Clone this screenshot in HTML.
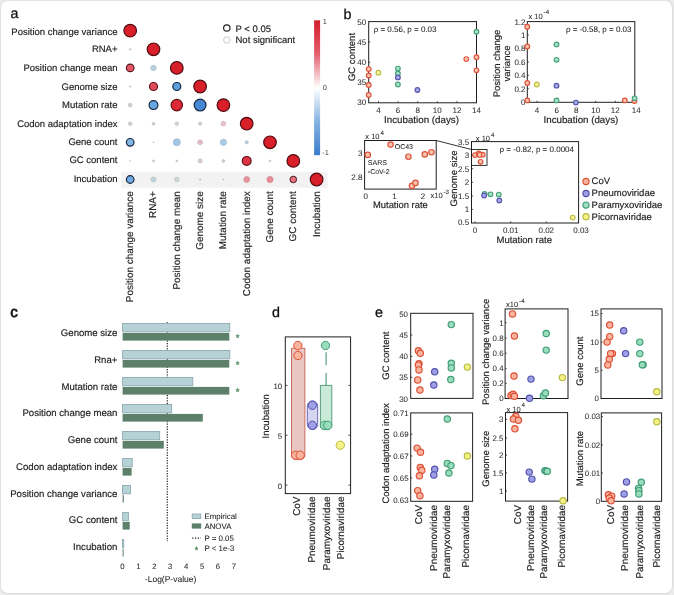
<!DOCTYPE html>
<html lang="en"><head><meta charset="utf-8"><title>Figure</title>
<style>
html,body{margin:0;padding:0;background:#ebebeb;}
body{width:674px;height:595px;overflow:hidden;position:relative;}
.card{position:absolute;left:0;top:0;width:671px;height:591.5px;background:#fff;border:1px solid #e3e3e3;border-right-color:#dcdcdc;border-bottom-color:#dcdcdc;border-radius:8px;box-sizing:content-box;}
svg{position:absolute;left:0;top:0;font-family:"Liberation Sans", sans-serif;text-rendering:geometricPrecision;will-change:transform;}
svg text{stroke:#1c1c1c;stroke-width:0.16px;paint-order:stroke fill;}
</style></head><body>
<div class="card"></div>
<svg width="674" height="595" viewBox="0 0 674 595">
<defs><linearGradient id="cb" x1="0" y1="0" x2="0" y2="1">
<stop offset="0" stop-color="#d31e2b"/><stop offset="0.25" stop-color="#e3606f"/><stop offset="0.5" stop-color="#ffffff"/><stop offset="0.75" stop-color="#86b4e2"/><stop offset="1" stop-color="#3a7ccd"/>
</linearGradient></defs>
<text x="10.5" y="17.8" font-size="14.3" fill="#111" style="stroke:#111;stroke-width:0.3px">a</text>
<text x="343.5" y="18.8" font-size="14.3" fill="#111" style="stroke:#111;stroke-width:0.3px">b</text>
<text x="10.3" y="317.2" font-size="15" fill="#111" style="stroke:#111;stroke-width:0.7px">c</text>
<text x="272" y="316.5" font-size="14.3" fill="#111" style="stroke:#111;stroke-width:0.3px">d</text>
<text x="375" y="316.5" font-size="14.3" fill="#111" style="stroke:#111;stroke-width:0.3px">e</text>
<rect x="121" y="171.8" width="206.6" height="15.9" fill="#f2f2f2"/>
<text x="117.50" y="35.00" font-size="9.5" text-anchor="end" fill="#1c1c1c" >Position change variance</text>
<text transform="translate(133.18,191.20) rotate(-90)" font-size="9.95" text-anchor="end" fill="#1c1c1c" >Position change variance</text>
<text x="117.50" y="52.00" font-size="9.5" text-anchor="end" fill="#1c1c1c" >RNA+</text>
<text transform="translate(156.48,191.20) rotate(-90)" font-size="9.95" text-anchor="end" fill="#1c1c1c" >RNA+</text>
<text x="117.50" y="71.00" font-size="9.5" text-anchor="end" fill="#1c1c1c" >Position change mean</text>
<text transform="translate(179.78,191.20) rotate(-90)" font-size="9.95" text-anchor="end" fill="#1c1c1c" >Position change mean</text>
<text x="117.50" y="90.00" font-size="9.5" text-anchor="end" fill="#1c1c1c" >Genome size</text>
<text transform="translate(203.08,191.20) rotate(-90)" font-size="9.95" text-anchor="end" fill="#1c1c1c" >Genome size</text>
<text x="117.50" y="108.00" font-size="9.5" text-anchor="end" fill="#1c1c1c" >Mutation rate</text>
<text transform="translate(226.38,191.20) rotate(-90)" font-size="9.95" text-anchor="end" fill="#1c1c1c" >Mutation rate</text>
<text x="117.50" y="127.00" font-size="9.5" text-anchor="end" fill="#1c1c1c" >Codon adaptation index</text>
<text transform="translate(249.68,191.20) rotate(-90)" font-size="9.95" text-anchor="end" fill="#1c1c1c" >Codon adaptation index</text>
<text x="117.50" y="145.00" font-size="9.5" text-anchor="end" fill="#1c1c1c" >Gene count</text>
<text transform="translate(272.98,191.20) rotate(-90)" font-size="9.95" text-anchor="end" fill="#1c1c1c" >Gene count</text>
<text x="117.50" y="163.00" font-size="9.5" text-anchor="end" fill="#1c1c1c" >GC content</text>
<text transform="translate(296.28,191.20) rotate(-90)" font-size="9.95" text-anchor="end" fill="#1c1c1c" >GC content</text>
<text x="117.50" y="182.00" font-size="9.5" text-anchor="end" fill="#1c1c1c" >Incubation</text>
<text transform="translate(319.58,191.20) rotate(-90)" font-size="9.95" text-anchor="end" fill="#1c1c1c" >Incubation</text>
<circle cx="130.2" cy="30.7" r="6.3" fill="#d81f2a" stroke="#520c11" stroke-width="1.2"/>
<circle cx="130.2" cy="49.3" r="0.9" fill="#cfcacd" stroke="#bab5b8" stroke-width="0.4"/>
<circle cx="153.5" cy="49.3" r="6.3" fill="#d81f2a" stroke="#520c11" stroke-width="1.2"/>
<circle cx="130.2" cy="67.9" r="3.8" fill="#e25565" stroke="#5e1820" stroke-width="1.2"/>
<circle cx="153.5" cy="67.9" r="2.7" fill="#b9cfdc" stroke="#a6bac6" stroke-width="0.7"/>
<circle cx="176.8" cy="67.9" r="6.3" fill="#d81f2a" stroke="#520c11" stroke-width="1.2"/>
<circle cx="130.2" cy="86.5" r="0.8" fill="#cfcacd" stroke="#bab5b8" stroke-width="0.4"/>
<circle cx="153.5" cy="86.5" r="4.0" fill="#e14a5a" stroke="#5e1820" stroke-width="1.2"/>
<circle cx="176.8" cy="86.5" r="4.0" fill="#5f9fdc" stroke="#16263e" stroke-width="1.2"/>
<circle cx="200.1" cy="86.5" r="6.3" fill="#d81f2a" stroke="#520c11" stroke-width="1.2"/>
<circle cx="130.2" cy="105.1" r="1.9" fill="#d6cdd1" stroke="#c0b8bc" stroke-width="0.7"/>
<circle cx="153.5" cy="105.1" r="4.4" fill="#69a7e1" stroke="#16263e" stroke-width="1.2"/>
<circle cx="176.8" cy="105.1" r="5.7" fill="#de2836" stroke="#5e0f14" stroke-width="1.2"/>
<circle cx="200.1" cy="105.1" r="5.9" fill="#4688d6" stroke="#16263e" stroke-width="1.2"/>
<circle cx="223.4" cy="105.1" r="6.3" fill="#d81f2a" stroke="#520c11" stroke-width="1.2"/>
<circle cx="130.2" cy="123.7" r="1.8" fill="#d4d0d3" stroke="#bebbbd" stroke-width="0.7"/>
<circle cx="153.5" cy="123.7" r="1.3" fill="#cfcacd" stroke="#bab5b8" stroke-width="0.7"/>
<circle cx="176.8" cy="123.7" r="1.8" fill="#d6d2d5" stroke="#c0bdbf" stroke-width="0.7"/>
<circle cx="200.1" cy="123.7" r="1.6" fill="#d6d2d5" stroke="#c0bdbf" stroke-width="0.7"/>
<circle cx="223.4" cy="123.7" r="2.4" fill="#e9c3ca" stroke="#d1afb5" stroke-width="0.7"/>
<circle cx="246.7" cy="123.7" r="6.3" fill="#d81f2a" stroke="#520c11" stroke-width="1.2"/>
<circle cx="130.2" cy="142.3" r="3.8" fill="#82b8e8" stroke="#16263e" stroke-width="1.2"/>
<circle cx="153.5" cy="142.3" r="0.6" fill="#cfcacd" stroke="#bab5b8" stroke-width="0.4"/>
<circle cx="176.8" cy="142.3" r="3.5" fill="#a3c6e4" stroke="#92b2cd" stroke-width="0.7"/>
<circle cx="200.1" cy="142.3" r="2.4" fill="#e2bcc6" stroke="#cba9b2" stroke-width="0.7"/>
<circle cx="223.4" cy="142.3" r="3.1" fill="#aacde5" stroke="#99b8ce" stroke-width="0.7"/>
<circle cx="246.7" cy="142.3" r="1.6" fill="#b5d3e4" stroke="#a2bdcd" stroke-width="0.7"/>
<circle cx="270.0" cy="142.3" r="6.3" fill="#d81f2a" stroke="#520c11" stroke-width="1.2"/>
<circle cx="130.2" cy="160.9" r="0.6" fill="#cfcacd" stroke="#bab5b8" stroke-width="0.4"/>
<circle cx="153.5" cy="160.9" r="1.1" fill="#cfcacd" stroke="#bab5b8" stroke-width="0.4"/>
<circle cx="176.8" cy="160.9" r="1.0" fill="#cfcacd" stroke="#bab5b8" stroke-width="0.4"/>
<circle cx="200.1" cy="160.9" r="2.1" fill="#dccdd3" stroke="#c6b8bd" stroke-width="0.7"/>
<circle cx="223.4" cy="160.9" r="1.3" fill="#cfcacd" stroke="#bab5b8" stroke-width="0.7"/>
<circle cx="246.7" cy="160.9" r="4.4" fill="#dd3344" stroke="#5e0f14" stroke-width="1.2"/>
<circle cx="270.0" cy="160.9" r="1.0" fill="#cfcacd" stroke="#bab5b8" stroke-width="0.4"/>
<circle cx="293.3" cy="160.9" r="6.3" fill="#d81f2a" stroke="#520c11" stroke-width="1.2"/>
<circle cx="130.2" cy="179.5" r="3.8" fill="#72aae1" stroke="#16263e" stroke-width="1.2"/>
<circle cx="153.5" cy="179.5" r="2.5" fill="#bdd2da" stroke="#aabdc4" stroke-width="0.7"/>
<circle cx="176.8" cy="179.5" r="2.3" fill="#cdd7da" stroke="#b8c1c4" stroke-width="0.7"/>
<circle cx="200.1" cy="179.5" r="0.7" fill="#bdbdbd" stroke="#aaaaaa" stroke-width="0.4"/>
<circle cx="223.4" cy="179.5" r="0.6" fill="#bdbdbd" stroke="#aaaaaa" stroke-width="0.4"/>
<circle cx="246.7" cy="179.5" r="2.9" fill="#e8949f" stroke="#d0858f" stroke-width="0.7"/>
<circle cx="270.0" cy="179.5" r="3.1" fill="#e88f9b" stroke="#d0808b" stroke-width="0.7"/>
<circle cx="293.3" cy="179.5" r="3.3" fill="#ea7080" stroke="#3c1018" stroke-width="0.95"/>
<circle cx="316.6" cy="179.5" r="6.3" fill="#d81f2a" stroke="#520c11" stroke-width="1.2"/>
<circle cx="226.8" cy="28.0" r="3.2" fill="#fff" stroke="#222" stroke-width="1.2"/>
<circle cx="226.8" cy="40.0" r="3.2" fill="#fff" stroke="#c2c2c2" stroke-width="0.9"/>
<text x="235.50" y="31.62" font-size="9.5" text-anchor="start" fill="#1c1c1c" >P &lt; 0.05</text>
<text x="235.50" y="43.42" font-size="9.5" text-anchor="start" fill="#1c1c1c" >Not significant</text>
<rect x="314.1" y="20.3" width="6" height="134.9" fill="url(#cb)"/>
<text x="322.80" y="24.46" font-size="7.4" text-anchor="start" fill="#444" style="stroke:none">1</text>
<text x="322.80" y="89.66" font-size="7.4" text-anchor="start" fill="#444" style="stroke:none">0</text>
<text x="322.20" y="155.06" font-size="7.4" text-anchor="start" fill="#444" style="stroke:none">-1</text>
<rect x="368.7" y="21.6" width="107.8" height="81.2" fill="none" stroke="#1e1e1e" stroke-width="1.0"/>
<text x="366.10" y="105.08" font-size="8.0" text-anchor="end" fill="#303030"  style="stroke-width:0.06px">30</text>
<text x="366.10" y="85.38" font-size="8.0" text-anchor="end" fill="#303030"  style="stroke-width:0.06px">35</text>
<line x1="368.7" y1="82.5" x2="370.3" y2="82.5" stroke="#1e1e1e" stroke-width="0.8"/>
<text x="366.10" y="65.08" font-size="8.0" text-anchor="end" fill="#303030"  style="stroke-width:0.06px">40</text>
<line x1="368.7" y1="62.2" x2="370.3" y2="62.2" stroke="#1e1e1e" stroke-width="0.8"/>
<text x="366.10" y="44.78" font-size="8.0" text-anchor="end" fill="#303030"  style="stroke-width:0.06px">45</text>
<line x1="368.7" y1="41.9" x2="370.3" y2="41.9" stroke="#1e1e1e" stroke-width="0.8"/>
<text x="366.10" y="25.28" font-size="8.0" text-anchor="end" fill="#303030"  style="stroke-width:0.06px">50</text>
<text x="378.50" y="113.08" font-size="8.0" text-anchor="middle" fill="#303030"  style="stroke-width:0.06px">4</text>
<line x1="378.5" y1="102.8" x2="378.5" y2="101.2" stroke="#1e1e1e" stroke-width="0.8"/>
<text x="398.10" y="113.08" font-size="8.0" text-anchor="middle" fill="#303030"  style="stroke-width:0.06px">6</text>
<line x1="398.1" y1="102.8" x2="398.1" y2="101.2" stroke="#1e1e1e" stroke-width="0.8"/>
<text x="417.70" y="113.08" font-size="8.0" text-anchor="middle" fill="#303030"  style="stroke-width:0.06px">8</text>
<line x1="417.7" y1="102.8" x2="417.7" y2="101.2" stroke="#1e1e1e" stroke-width="0.8"/>
<text x="437.30" y="113.08" font-size="8.0" text-anchor="middle" fill="#303030"  style="stroke-width:0.06px">10</text>
<line x1="437.3" y1="102.8" x2="437.3" y2="101.2" stroke="#1e1e1e" stroke-width="0.8"/>
<text x="456.90" y="113.08" font-size="8.0" text-anchor="middle" fill="#303030"  style="stroke-width:0.06px">12</text>
<line x1="456.9" y1="102.8" x2="456.9" y2="101.2" stroke="#1e1e1e" stroke-width="0.8"/>
<text x="476.50" y="113.08" font-size="8.0" text-anchor="middle" fill="#303030"  style="stroke-width:0.06px">14</text>
<text x="421.50" y="122.51" font-size="9.75" text-anchor="middle" fill="#1c1c1c" >Incubation (days)</text>
<text transform="translate(354.52,57.00) rotate(-90)" font-size="9.5" text-anchor="middle" fill="#1c1c1c" >GC content</text>
<text x="373.70" y="31.58" font-size="8.0" text-anchor="start" fill="#1c1c1c"  style="stroke-width:0.06px">ρ = 0.56, p = 0.03</text>
<circle cx="368.7" cy="69.1" r="2.35" fill="#fcc2b0" stroke="#de5338" stroke-width="1.15"/>
<circle cx="368.7" cy="75.5" r="2.35" fill="#fcc2b0" stroke="#de5338" stroke-width="1.15"/>
<circle cx="368.7" cy="85.0" r="2.35" fill="#fcc2b0" stroke="#de5338" stroke-width="1.15"/>
<circle cx="368.7" cy="95.0" r="2.35" fill="#fcc2b0" stroke="#de5338" stroke-width="1.15"/>
<circle cx="466.3" cy="59.1" r="2.35" fill="#fcc2b0" stroke="#de5338" stroke-width="1.15"/>
<circle cx="476.5" cy="57.2" r="2.35" fill="#fcc2b0" stroke="#de5338" stroke-width="1.15"/>
<circle cx="476.5" cy="70.3" r="2.35" fill="#fcc2b0" stroke="#de5338" stroke-width="1.15"/>
<circle cx="397.9" cy="68.6" r="2.35" fill="#a6e2c6" stroke="#46a07a" stroke-width="1.15"/>
<circle cx="397.9" cy="73.4" r="2.35" fill="#a6e2c6" stroke="#46a07a" stroke-width="1.15"/>
<circle cx="397.9" cy="84.5" r="2.35" fill="#a6e2c6" stroke="#46a07a" stroke-width="1.15"/>
<circle cx="476.5" cy="31.8" r="2.35" fill="#a6e2c6" stroke="#46a07a" stroke-width="1.15"/>
<circle cx="397.9" cy="77.4" r="2.35" fill="#a9a9ea" stroke="#5656ae" stroke-width="1.15"/>
<circle cx="417.4" cy="90.0" r="2.35" fill="#a9a9ea" stroke="#5656ae" stroke-width="1.15"/>
<circle cx="378.4" cy="72.7" r="2.35" fill="#f5f598" stroke="#bcbc44" stroke-width="1.15"/>
<rect x="527.3" y="21.6" width="107.5" height="80.7" fill="none" stroke="#1e1e1e" stroke-width="1.0"/>
<text x="525.50" y="104.58" font-size="8.0" text-anchor="end" fill="#303030"  style="stroke-width:0.06px">0</text>
<text x="525.50" y="91.73" font-size="8.0" text-anchor="end" fill="#303030"  style="stroke-width:0.06px">0.2</text>
<line x1="527.3" y1="88.8" x2="528.9" y2="88.8" stroke="#1e1e1e" stroke-width="0.8"/>
<text x="525.50" y="78.28" font-size="8.0" text-anchor="end" fill="#303030"  style="stroke-width:0.06px">0.4</text>
<line x1="527.3" y1="75.4" x2="528.9" y2="75.4" stroke="#1e1e1e" stroke-width="0.8"/>
<text x="525.50" y="64.83" font-size="8.0" text-anchor="end" fill="#303030"  style="stroke-width:0.06px">0.6</text>
<line x1="527.3" y1="62.0" x2="528.9" y2="62.0" stroke="#1e1e1e" stroke-width="0.8"/>
<text x="525.50" y="51.38" font-size="8.0" text-anchor="end" fill="#303030"  style="stroke-width:0.06px">0.8</text>
<line x1="527.3" y1="48.5" x2="528.9" y2="48.5" stroke="#1e1e1e" stroke-width="0.8"/>
<text x="525.50" y="37.93" font-size="8.0" text-anchor="end" fill="#303030"  style="stroke-width:0.06px">1</text>
<line x1="527.3" y1="35.0" x2="528.9" y2="35.0" stroke="#1e1e1e" stroke-width="0.8"/>
<text x="525.50" y="25.28" font-size="8.0" text-anchor="end" fill="#303030"  style="stroke-width:0.06px">1.2</text>
<text x="537.07" y="113.08" font-size="8.0" text-anchor="middle" fill="#303030"  style="stroke-width:0.06px">4</text>
<line x1="537.1" y1="102.3" x2="537.1" y2="100.7" stroke="#1e1e1e" stroke-width="0.8"/>
<text x="556.62" y="113.08" font-size="8.0" text-anchor="middle" fill="#303030"  style="stroke-width:0.06px">6</text>
<line x1="556.6" y1="102.3" x2="556.6" y2="100.7" stroke="#1e1e1e" stroke-width="0.8"/>
<text x="576.16" y="113.08" font-size="8.0" text-anchor="middle" fill="#303030"  style="stroke-width:0.06px">8</text>
<line x1="576.2" y1="102.3" x2="576.2" y2="100.7" stroke="#1e1e1e" stroke-width="0.8"/>
<text x="595.71" y="113.08" font-size="8.0" text-anchor="middle" fill="#303030"  style="stroke-width:0.06px">10</text>
<line x1="595.7" y1="102.3" x2="595.7" y2="100.7" stroke="#1e1e1e" stroke-width="0.8"/>
<text x="615.25" y="113.08" font-size="8.0" text-anchor="middle" fill="#303030"  style="stroke-width:0.06px">12</text>
<line x1="615.3" y1="102.3" x2="615.3" y2="100.7" stroke="#1e1e1e" stroke-width="0.8"/>
<text x="636.30" y="113.08" font-size="8.0" text-anchor="middle" fill="#303030"  style="stroke-width:0.06px">14</text>
<text x="580.90" y="122.51" font-size="9.75" text-anchor="middle" fill="#1c1c1c" >Incubation (days)</text>
<text transform="translate(499.62,63.50) rotate(-90)" font-size="9.5" text-anchor="middle" fill="#1c1c1c" >Position change</text>
<text transform="translate(510.42,63.50) rotate(-90)" font-size="9.5" text-anchor="middle" fill="#1c1c1c" >variance</text>
<text x="566.00" y="32.08" font-size="8.0" text-anchor="start" fill="#1c1c1c"  style="stroke-width:0.06px">ρ = -0.58, p = 0.03</text>
<text x="528.50" y="18.60" font-size="7.5" text-anchor="start" fill="#303030" style="stroke-width:0.06px">x 10<tspan dx="0.9" dy="-4.2" font-size="6.2">-4</tspan></text>
<circle cx="527.3" cy="26.8" r="2.35" fill="#fcc2b0" stroke="#de5338" stroke-width="1.15"/>
<circle cx="527.3" cy="46.5" r="2.35" fill="#fcc2b0" stroke="#de5338" stroke-width="1.15"/>
<circle cx="527.3" cy="82.9" r="2.35" fill="#fcc2b0" stroke="#de5338" stroke-width="1.15"/>
<circle cx="527.3" cy="100.4" r="2.35" fill="#fcc2b0" stroke="#de5338" stroke-width="1.15"/>
<circle cx="624.8" cy="100.4" r="2.35" fill="#fcc2b0" stroke="#de5338" stroke-width="1.15"/>
<circle cx="634.4" cy="101.0" r="2.35" fill="#fcc2b0" stroke="#de5338" stroke-width="1.15"/>
<circle cx="556.5" cy="44.4" r="2.35" fill="#a6e2c6" stroke="#46a07a" stroke-width="1.15"/>
<circle cx="556.5" cy="59.8" r="2.35" fill="#a6e2c6" stroke="#46a07a" stroke-width="1.15"/>
<circle cx="556.5" cy="100.4" r="2.35" fill="#a6e2c6" stroke="#46a07a" stroke-width="1.15"/>
<circle cx="634.6" cy="98.3" r="2.35" fill="#a6e2c6" stroke="#46a07a" stroke-width="1.15"/>
<circle cx="556.5" cy="85.7" r="2.35" fill="#a9a9ea" stroke="#5656ae" stroke-width="1.15"/>
<circle cx="575.9" cy="102.6" r="2.35" fill="#a9a9ea" stroke="#5656ae" stroke-width="1.15"/>
<circle cx="536.8" cy="84.5" r="2.35" fill="#f5f598" stroke="#bcbc44" stroke-width="1.15"/>
<rect x="364.6" y="140.5" width="71.6" height="48.6" fill="none" stroke="#1e1e1e" stroke-width="1.0"/>
<line x1="436.2" y1="140.5" x2="471.5" y2="149.5" stroke="#1e1e1e" stroke-width="0.9"/>
<text x="365.30" y="139.30" font-size="7.5" text-anchor="start" fill="#303030" style="stroke-width:0.06px">x 10<tspan dx="0.9" dy="-4.2" font-size="6.2">4</tspan></text>
<text x="362.40" y="156.48" font-size="8.0" text-anchor="end" fill="#303030"  style="stroke-width:0.06px">3</text>
<text x="362.40" y="180.38" font-size="8.0" text-anchor="end" fill="#303030"  style="stroke-width:0.06px">2.8</text>
<text x="365.70" y="199.18" font-size="8.0" text-anchor="middle" fill="#303030"  style="stroke-width:0.06px">0</text>
<text x="394.50" y="199.18" font-size="8.0" text-anchor="middle" fill="#303030"  style="stroke-width:0.06px">1</text>
<text x="423.00" y="199.18" font-size="8.0" text-anchor="middle" fill="#303030"  style="stroke-width:0.06px">2</text>
<text x="430.50" y="197.70" font-size="7.5" text-anchor="start" fill="#303030" style="stroke-width:0.06px">x10<tspan dx="0.9" dy="-4.2" font-size="6.2">-3</tspan></text>
<text x="400.40" y="207.58" font-size="9.4" text-anchor="middle" fill="#1c1c1c" >Mutation rate</text>
<text x="394.70" y="148.92" font-size="7.0" text-anchor="start" fill="#1c1c1c"  style="stroke-width:0.06px">OC43</text>
<text x="367.80" y="164.92" font-size="7.0" text-anchor="start" fill="#1c1c1c"  style="stroke-width:0.06px">SARS</text>
<text x="367.80" y="174.32" font-size="7.0" text-anchor="start" fill="#1c1c1c"  style="stroke-width:0.06px">-CoV-2</text>
<circle cx="390.6" cy="144.6" r="2.7" fill="#fcc2b0" stroke="#de5338" stroke-width="1.2"/>
<circle cx="367.8" cy="154.9" r="2.7" fill="#fcc2b0" stroke="#de5338" stroke-width="1.2"/>
<circle cx="408.4" cy="156.7" r="2.7" fill="#fcc2b0" stroke="#de5338" stroke-width="1.2"/>
<circle cx="424.8" cy="154.4" r="2.7" fill="#fcc2b0" stroke="#de5338" stroke-width="1.2"/>
<circle cx="431.5" cy="152.2" r="2.7" fill="#fcc2b0" stroke="#de5338" stroke-width="1.2"/>
<circle cx="412.0" cy="185.9" r="2.7" fill="#fcc2b0" stroke="#de5338" stroke-width="1.2"/>
<circle cx="415.5" cy="182.9" r="2.7" fill="#fcc2b0" stroke="#de5338" stroke-width="1.2"/>
<rect x="471.5" y="141.6" width="107.1" height="81.4" fill="none" stroke="#1e1e1e" stroke-width="1.0"/>
<rect x="471.5" y="149.5" width="15.5" height="15.9" fill="none" stroke="#1e1e1e" stroke-width="0.9"/>
<text x="469.20" y="225.28" font-size="8.0" text-anchor="end" fill="#303030"  style="stroke-width:0.06px">0.5</text>
<text x="469.20" y="212.31" font-size="8.0" text-anchor="end" fill="#303030"  style="stroke-width:0.06px">1</text>
<line x1="471.5" y1="209.4" x2="473.1" y2="209.4" stroke="#1e1e1e" stroke-width="0.8"/>
<text x="469.20" y="198.75" font-size="8.0" text-anchor="end" fill="#303030"  style="stroke-width:0.06px">1.5</text>
<line x1="471.5" y1="195.9" x2="473.1" y2="195.9" stroke="#1e1e1e" stroke-width="0.8"/>
<text x="469.20" y="185.18" font-size="8.0" text-anchor="end" fill="#303030"  style="stroke-width:0.06px">2</text>
<line x1="471.5" y1="182.3" x2="473.1" y2="182.3" stroke="#1e1e1e" stroke-width="0.8"/>
<text x="469.20" y="171.61" font-size="8.0" text-anchor="end" fill="#303030"  style="stroke-width:0.06px">2.5</text>
<line x1="471.5" y1="168.7" x2="473.1" y2="168.7" stroke="#1e1e1e" stroke-width="0.8"/>
<text x="469.20" y="158.05" font-size="8.0" text-anchor="end" fill="#303030"  style="stroke-width:0.06px">3</text>
<line x1="471.5" y1="155.2" x2="473.1" y2="155.2" stroke="#1e1e1e" stroke-width="0.8"/>
<text x="469.20" y="145.08" font-size="8.0" text-anchor="end" fill="#303030"  style="stroke-width:0.06px">3.5</text>
<text x="475.10" y="233.08" font-size="8.0" text-anchor="middle" fill="#303030"  style="stroke-width:0.06px">0</text>
<line x1="475.1" y1="223.0" x2="475.1" y2="221.4" stroke="#1e1e1e" stroke-width="0.8"/>
<text x="510.70" y="233.08" font-size="8.0" text-anchor="middle" fill="#303030"  style="stroke-width:0.06px">0.01</text>
<line x1="510.7" y1="223.0" x2="510.7" y2="221.4" stroke="#1e1e1e" stroke-width="0.8"/>
<text x="546.30" y="233.08" font-size="8.0" text-anchor="middle" fill="#303030"  style="stroke-width:0.06px">0.02</text>
<line x1="546.3" y1="223.0" x2="546.3" y2="221.4" stroke="#1e1e1e" stroke-width="0.8"/>
<text x="581.00" y="233.08" font-size="8.0" text-anchor="middle" fill="#303030"  style="stroke-width:0.06px">0.03</text>
<text x="524.20" y="242.82" font-size="9.5" text-anchor="middle" fill="#1c1c1c" >Mutation rate</text>
<text transform="translate(457.12,178.40) rotate(-90)" font-size="9.5" text-anchor="middle" fill="#1c1c1c" >Genome size</text>
<text x="499.60" y="151.58" font-size="8.0" text-anchor="start" fill="#1c1c1c"  style="stroke-width:0.06px">ρ = -0.82, p = 0.0004</text>
<text x="475.80" y="140.70" font-size="7.5" text-anchor="start" fill="#303030" style="stroke-width:0.06px">x 10<tspan dx="0.9" dy="-4.2" font-size="6.2">4</tspan></text>
<circle cx="475.1" cy="155.1" r="2.35" fill="#fcc2b0" stroke="#de5338" stroke-width="1.15"/>
<circle cx="478.7" cy="153.5" r="2.35" fill="#fcc2b0" stroke="#de5338" stroke-width="1.15"/>
<circle cx="482.7" cy="154.7" r="2.35" fill="#fcc2b0" stroke="#de5338" stroke-width="1.15"/>
<circle cx="480.6" cy="161.8" r="2.35" fill="#fcc2b0" stroke="#de5338" stroke-width="1.15"/>
<circle cx="479.6" cy="154.9" r="2.35" fill="#fcc2b0" stroke="#de5338" stroke-width="1.15"/>
<circle cx="484.6" cy="193.8" r="2.35" fill="#a6e2c6" stroke="#46a07a" stroke-width="1.15"/>
<circle cx="490.5" cy="194.3" r="2.35" fill="#a6e2c6" stroke="#46a07a" stroke-width="1.15"/>
<circle cx="498.8" cy="194.6" r="2.35" fill="#a6e2c6" stroke="#46a07a" stroke-width="1.15"/>
<circle cx="484.1" cy="195.5" r="2.35" fill="#a9a9ea" stroke="#5656ae" stroke-width="1.15"/>
<circle cx="499.3" cy="200.5" r="2.35" fill="#a9a9ea" stroke="#5656ae" stroke-width="1.15"/>
<circle cx="572.7" cy="217.6" r="2.35" fill="#f5f598" stroke="#bcbc44" stroke-width="1.15"/>
<circle cx="586.0" cy="181.5" r="3.1" fill="#fab49e" stroke="#dc4f34" stroke-width="1.15"/>
<text x="591.60" y="184.47" font-size="9.5" text-anchor="start" fill="#1c1c1c" >CoV</text>
<circle cx="586.0" cy="193.5" r="3.1" fill="#9f9fe7" stroke="#5252aa" stroke-width="1.15"/>
<text x="591.60" y="196.47" font-size="9.5" text-anchor="start" fill="#1c1c1c" >Pneumoviridae</text>
<circle cx="586.0" cy="205.1" r="3.1" fill="#98ddbc" stroke="#429c76" stroke-width="1.15"/>
<text x="591.60" y="208.07" font-size="9.5" text-anchor="start" fill="#1c1c1c" >Paramyxoviridae</text>
<circle cx="586.0" cy="216.7" r="3.1" fill="#f3f386" stroke="#b8b840" stroke-width="1.15"/>
<text x="591.60" y="219.67" font-size="9.5" text-anchor="start" fill="#1c1c1c" >Picornaviridae</text>
<line x1="167.3" y1="322.2" x2="167.3" y2="541.2" stroke="#222" stroke-width="1.2" stroke-dasharray="1.25,1.35"/>
<text x="117.40" y="336.00" font-size="9.6" text-anchor="end" fill="#1c1c1c" >Genome size</text>
<rect x="122.6" y="323.4" width="107.2" height="8.4" fill="#b7d2d7" stroke="#86a6ad" stroke-width="0.8"/>
<rect x="122.6" y="332.9" width="106.7" height="7.7" fill="#5c8069"/>
<text x="237.50" y="341.32" font-size="9.5" text-anchor="middle" fill="#4a8a5c" style="stroke:#4a8a5c;stroke-width:0.3px">*</text>
<text x="117.40" y="363.00" font-size="9.6" text-anchor="end" fill="#1c1c1c" >Rna+</text>
<rect x="122.6" y="350.4" width="107.2" height="8.4" fill="#b7d2d7" stroke="#86a6ad" stroke-width="0.8"/>
<rect x="122.6" y="359.9" width="106.7" height="7.7" fill="#5c8069"/>
<text x="237.50" y="368.32" font-size="9.5" text-anchor="middle" fill="#4a8a5c" style="stroke:#4a8a5c;stroke-width:0.3px">*</text>
<text x="117.40" y="390.00" font-size="9.6" text-anchor="end" fill="#1c1c1c" >Mutation rate</text>
<rect x="122.6" y="377.4" width="70.2" height="8.4" fill="#b7d2d7" stroke="#86a6ad" stroke-width="0.8"/>
<rect x="122.6" y="386.9" width="106.7" height="7.7" fill="#5c8069"/>
<text x="237.50" y="395.32" font-size="9.5" text-anchor="middle" fill="#4a8a5c" style="stroke:#4a8a5c;stroke-width:0.3px">*</text>
<text x="117.40" y="416.00" font-size="9.6" text-anchor="end" fill="#1c1c1c" >Position change mean</text>
<rect x="122.6" y="404.4" width="49.1" height="8.4" fill="#b7d2d7" stroke="#86a6ad" stroke-width="0.8"/>
<rect x="122.6" y="413.9" width="80.2" height="7.7" fill="#5c8069"/>
<text x="117.40" y="443.00" font-size="9.6" text-anchor="end" fill="#1c1c1c" >Gene count</text>
<rect x="122.6" y="431.4" width="37.1" height="8.4" fill="#b7d2d7" stroke="#86a6ad" stroke-width="0.8"/>
<rect x="122.6" y="440.9" width="41.2" height="7.7" fill="#5c8069"/>
<text x="117.40" y="470.00" font-size="9.6" text-anchor="end" fill="#1c1c1c" >Codon adaptation index</text>
<rect x="122.6" y="458.4" width="9.6" height="8.4" fill="#b7d2d7" stroke="#86a6ad" stroke-width="0.8"/>
<rect x="122.6" y="467.9" width="9.0" height="7.7" fill="#5c8069"/>
<text x="117.40" y="497.00" font-size="9.6" text-anchor="end" fill="#1c1c1c" >Position change variance</text>
<rect x="122.6" y="485.4" width="7.8" height="8.4" fill="#b7d2d7" stroke="#86a6ad" stroke-width="0.8"/>
<rect x="122.6" y="494.9" width="1.2" height="7.7" fill="#5c8069"/>
<text x="117.40" y="523.00" font-size="9.6" text-anchor="end" fill="#1c1c1c" >GC content</text>
<rect x="122.6" y="512.4" width="5.8" height="8.4" fill="#b7d2d7" stroke="#86a6ad" stroke-width="0.8"/>
<rect x="122.6" y="521.9" width="7.1" height="7.7" fill="#5c8069"/>
<text x="117.40" y="550.00" font-size="9.6" text-anchor="end" fill="#1c1c1c" >Incubation</text>
<rect x="122.6" y="539.4" width="1.1" height="8.4" fill="#b7d2d7" stroke="#86a6ad" stroke-width="0.8"/>
<rect x="122.6" y="548.9" width="1.0" height="7.7" fill="#5c8069"/>
<text x="122.50" y="569.01" font-size="7.8" text-anchor="middle" fill="#303030"  style="stroke-width:0.06px">0</text>
<text x="138.42" y="569.01" font-size="7.8" text-anchor="middle" fill="#303030"  style="stroke-width:0.06px">1</text>
<text x="154.34" y="569.01" font-size="7.8" text-anchor="middle" fill="#303030"  style="stroke-width:0.06px">2</text>
<text x="170.26" y="569.01" font-size="7.8" text-anchor="middle" fill="#303030"  style="stroke-width:0.06px">3</text>
<text x="186.18" y="569.01" font-size="7.8" text-anchor="middle" fill="#303030"  style="stroke-width:0.06px">4</text>
<text x="202.10" y="569.01" font-size="7.8" text-anchor="middle" fill="#303030"  style="stroke-width:0.06px">5</text>
<text x="218.02" y="569.01" font-size="7.8" text-anchor="middle" fill="#303030"  style="stroke-width:0.06px">6</text>
<text x="233.94" y="569.01" font-size="7.8" text-anchor="middle" fill="#303030"  style="stroke-width:0.06px">7</text>
<text x="170.60" y="582.16" font-size="8.5" text-anchor="middle" fill="#1c1c1c"  style="stroke-width:0.06px">-Log(P-value)</text>
<rect x="192.2" y="514.0" width="8.6" height="4.6" fill="#b7d2d7" stroke="#86a6ad" stroke-width="0.8"/>
<rect x="191.8" y="523.4" width="9.4" height="5.2" fill="#5c8069"/>
<line x1="192.2" y1="538.2" x2="201" y2="538.2" stroke="#222" stroke-width="1.2" stroke-dasharray="1.2,1.6"/>
<text x="196.50" y="553.04" font-size="9" text-anchor="middle" fill="#4a8a5c" style="stroke:#4a8a5c;stroke-width:0.3px">*</text>
<text x="204.40" y="519.04" font-size="7.9" text-anchor="start" fill="#1c1c1c"  style="stroke-width:0.06px">Empirical</text>
<text x="204.40" y="528.74" font-size="7.9" text-anchor="start" fill="#1c1c1c"  style="stroke-width:0.06px">ANOVA</text>
<text x="204.40" y="541.04" font-size="7.9" text-anchor="start" fill="#1c1c1c"  style="stroke-width:0.06px">P = 0.05</text>
<text x="204.40" y="550.84" font-size="7.9" text-anchor="start" fill="#1c1c1c"  style="stroke-width:0.06px">P &lt; 1e-3</text>
<path d="M291.5,348.2 L304.9,348.2 L304.9,455.2 A4.4,4.4 0 0 1 300.5,459.6 L295.9,459.6 A4.4,4.4 0 0 1 291.5,455.2 Z" fill="#eac6c2" stroke="#c4614f" stroke-width="0.9"/>
<rect x="307.3" y="400.9" width="10.4" height="28.7" rx="5.2" fill="#d5d5f2" stroke="#5a5ab0" stroke-width="0.9"/>
<line x1="326.1" y1="352.2" x2="326.1" y2="385.4" stroke="#4a9472" stroke-width="1.1" stroke-dasharray="13,7.8"/>
<path d="M320.4,385.4 L331.8,385.4 L331.8,425.3 A4.4,4.4 0 0 1 327.4,429.7 L324.8,429.7 A4.4,4.4 0 0 1 320.4,425.3 Z" fill="#c9ead6" stroke="#4a9472" stroke-width="0.9"/>
<circle cx="297.9" cy="345.5" r="4.15" fill="#fab49e" stroke="#dc4f34" stroke-width="1.0"/>
<circle cx="297.9" cy="355.5" r="4.15" fill="#fab49e" stroke="#dc4f34" stroke-width="1.0"/>
<circle cx="295.6" cy="455.2" r="4.15" fill="#fab49e" stroke="#dc4f34" stroke-width="1.0"/>
<circle cx="300.2" cy="455.2" r="4.15" fill="#fab49e" stroke="#dc4f34" stroke-width="1.0"/>
<circle cx="312.4" cy="405.3" r="4.15" fill="#9f9fe7" stroke="#5252aa" stroke-width="1.0"/>
<circle cx="312.4" cy="425.3" r="4.15" fill="#9f9fe7" stroke="#5252aa" stroke-width="1.0"/>
<circle cx="325.5" cy="345.5" r="4.15" fill="#98ddbc" stroke="#429c76" stroke-width="1.0"/>
<circle cx="324.4" cy="425.3" r="4.15" fill="#98ddbc" stroke="#429c76" stroke-width="1.0"/>
<circle cx="327.8" cy="425.3" r="4.15" fill="#98ddbc" stroke="#429c76" stroke-width="1.0"/>
<circle cx="340.3" cy="445.2" r="4.15" fill="#f3f386" stroke="#b8b840" stroke-width="1.0"/>
<rect x="285.3" y="336.9" width="65.3" height="156.7" fill="none" stroke="#1e1e1e" stroke-width="1.0"/>
<text x="282.20" y="488.81" font-size="7.8" text-anchor="end" fill="#303030"  style="stroke-width:0.06px">0</text>
<line x1="285.3" y1="485.1" x2="287.5" y2="485.1" stroke="#1e1e1e" stroke-width="0.8"/>
<line x1="350.6" y1="485.1" x2="348.4" y2="485.1" stroke="#1e1e1e" stroke-width="0.8"/>
<text x="282.20" y="438.96" font-size="7.8" text-anchor="end" fill="#303030"  style="stroke-width:0.06px">5</text>
<line x1="285.3" y1="435.2" x2="287.5" y2="435.2" stroke="#1e1e1e" stroke-width="0.8"/>
<line x1="350.6" y1="435.2" x2="348.4" y2="435.2" stroke="#1e1e1e" stroke-width="0.8"/>
<text x="282.20" y="389.11" font-size="7.8" text-anchor="end" fill="#303030"  style="stroke-width:0.06px">10</text>
<line x1="285.3" y1="385.4" x2="287.5" y2="385.4" stroke="#1e1e1e" stroke-width="0.8"/>
<line x1="350.6" y1="385.4" x2="348.4" y2="385.4" stroke="#1e1e1e" stroke-width="0.8"/>
<text transform="translate(268.77,416.30) rotate(-90)" font-size="9.65" text-anchor="middle" fill="#1c1c1c" >Incubation</text>
<text transform="translate(300.46,496.60) rotate(-90)" font-size="9.9" text-anchor="end" fill="#1c1c1c" >CoV</text>
<text transform="translate(315.06,496.60) rotate(-90)" font-size="9.9" text-anchor="end" fill="#1c1c1c" >Pneumoviridae</text>
<text transform="translate(329.66,496.60) rotate(-90)" font-size="9.9" text-anchor="end" fill="#1c1c1c" >Paramyxoviridae</text>
<text transform="translate(344.26,496.60) rotate(-90)" font-size="9.9" text-anchor="end" fill="#1c1c1c" >Picornaviridae</text>
<rect x="410.7" y="313.3" width="62.3" height="85.1" fill="none" stroke="#1e1e1e" stroke-width="1.0"/>
<text x="408.00" y="316.84" font-size="7.9" text-anchor="end" fill="#303030"  style="stroke-width:0.06px">50</text>
<text x="408.00" y="337.94" font-size="7.9" text-anchor="end" fill="#303030"  style="stroke-width:0.06px">45</text>
<line x1="410.7" y1="335.1" x2="412.3" y2="335.1" stroke="#1e1e1e" stroke-width="0.8"/>
<text x="408.00" y="359.24" font-size="7.9" text-anchor="end" fill="#303030"  style="stroke-width:0.06px">40</text>
<line x1="410.7" y1="356.4" x2="412.3" y2="356.4" stroke="#1e1e1e" stroke-width="0.8"/>
<text x="408.00" y="380.14" font-size="7.9" text-anchor="end" fill="#303030"  style="stroke-width:0.06px">35</text>
<line x1="410.7" y1="377.3" x2="412.3" y2="377.3" stroke="#1e1e1e" stroke-width="0.8"/>
<text x="408.00" y="401.54" font-size="7.9" text-anchor="end" fill="#303030"  style="stroke-width:0.06px">30</text>
<text transform="translate(389.12,355.60) rotate(-90)" font-size="9.5" text-anchor="middle" fill="#1c1c1c" >GC content</text>
<circle cx="418.4" cy="350.8" r="3.15" fill="#fab49e" stroke="#dc4f34" stroke-width="1.15"/>
<circle cx="420.3" cy="353.2" r="3.15" fill="#fab49e" stroke="#dc4f34" stroke-width="1.15"/>
<circle cx="419.0" cy="363.8" r="3.15" fill="#fab49e" stroke="#dc4f34" stroke-width="1.15"/>
<circle cx="418.4" cy="365.1" r="3.15" fill="#fab49e" stroke="#dc4f34" stroke-width="1.15"/>
<circle cx="419.0" cy="369.9" r="3.15" fill="#fab49e" stroke="#dc4f34" stroke-width="1.15"/>
<circle cx="417.7" cy="379.9" r="3.15" fill="#fab49e" stroke="#dc4f34" stroke-width="1.15"/>
<circle cx="419.9" cy="390.0" r="3.15" fill="#fab49e" stroke="#dc4f34" stroke-width="1.15"/>
<circle cx="434.7" cy="371.7" r="3.15" fill="#9f9fe7" stroke="#5252aa" stroke-width="1.15"/>
<circle cx="433.8" cy="385.0" r="3.15" fill="#9f9fe7" stroke="#5252aa" stroke-width="1.15"/>
<circle cx="451.3" cy="324.6" r="3.15" fill="#98ddbc" stroke="#429c76" stroke-width="1.15"/>
<circle cx="451.3" cy="363.2" r="3.15" fill="#98ddbc" stroke="#429c76" stroke-width="1.15"/>
<circle cx="451.3" cy="367.9" r="3.15" fill="#98ddbc" stroke="#429c76" stroke-width="1.15"/>
<circle cx="450.8" cy="379.5" r="3.15" fill="#98ddbc" stroke="#429c76" stroke-width="1.15"/>
<circle cx="467.4" cy="367.1" r="3.15" fill="#f3f386" stroke="#b8b840" stroke-width="1.15"/>
<rect x="505.1" y="308.9" width="62.9" height="89.6" fill="none" stroke="#1e1e1e" stroke-width="1.0"/>
<text x="503.60" y="325.54" font-size="7.9" text-anchor="end" fill="#303030"  style="stroke-width:0.06px">1</text>
<line x1="505.1" y1="322.7" x2="506.7" y2="322.7" stroke="#1e1e1e" stroke-width="0.8"/>
<text x="503.60" y="340.94" font-size="7.9" text-anchor="end" fill="#303030"  style="stroke-width:0.06px">0.8</text>
<line x1="505.1" y1="338.1" x2="506.7" y2="338.1" stroke="#1e1e1e" stroke-width="0.8"/>
<text x="503.60" y="356.04" font-size="7.9" text-anchor="end" fill="#303030"  style="stroke-width:0.06px">0.6</text>
<line x1="505.1" y1="353.2" x2="506.7" y2="353.2" stroke="#1e1e1e" stroke-width="0.8"/>
<text x="503.60" y="371.24" font-size="7.9" text-anchor="end" fill="#303030"  style="stroke-width:0.06px">0.4</text>
<line x1="505.1" y1="368.4" x2="506.7" y2="368.4" stroke="#1e1e1e" stroke-width="0.8"/>
<text x="503.60" y="386.24" font-size="7.9" text-anchor="end" fill="#303030"  style="stroke-width:0.06px">0.2</text>
<line x1="505.1" y1="383.4" x2="506.7" y2="383.4" stroke="#1e1e1e" stroke-width="0.8"/>
<text x="503.60" y="401.34" font-size="7.9" text-anchor="end" fill="#303030"  style="stroke-width:0.06px">0</text>
<text transform="translate(489.02,351.90) rotate(-90)" font-size="9.5" text-anchor="middle" fill="#1c1c1c" >Position change variance</text>
<circle cx="512.5" cy="313.9" r="3.15" fill="#fab49e" stroke="#dc4f34" stroke-width="1.15"/>
<circle cx="514.4" cy="336.0" r="3.15" fill="#fab49e" stroke="#dc4f34" stroke-width="1.15"/>
<circle cx="514.0" cy="376.0" r="3.15" fill="#fab49e" stroke="#dc4f34" stroke-width="1.15"/>
<circle cx="511.0" cy="395.4" r="3.15" fill="#fab49e" stroke="#dc4f34" stroke-width="1.15"/>
<circle cx="513.1" cy="394.3" r="3.15" fill="#fab49e" stroke="#dc4f34" stroke-width="1.15"/>
<circle cx="514.4" cy="396.3" r="3.15" fill="#fab49e" stroke="#dc4f34" stroke-width="1.15"/>
<circle cx="531.0" cy="379.1" r="3.15" fill="#9f9fe7" stroke="#5252aa" stroke-width="1.15"/>
<circle cx="529.5" cy="398.2" r="3.15" fill="#9f9fe7" stroke="#5252aa" stroke-width="1.15"/>
<circle cx="546.2" cy="333.5" r="3.15" fill="#98ddbc" stroke="#429c76" stroke-width="1.15"/>
<circle cx="546.2" cy="350.1" r="3.15" fill="#98ddbc" stroke="#429c76" stroke-width="1.15"/>
<circle cx="543.4" cy="395.8" r="3.15" fill="#98ddbc" stroke="#429c76" stroke-width="1.15"/>
<circle cx="545.4" cy="393.0" r="3.15" fill="#98ddbc" stroke="#429c76" stroke-width="1.15"/>
<circle cx="562.4" cy="377.6" r="3.15" fill="#f3f386" stroke="#b8b840" stroke-width="1.15"/>
<text x="506.10" y="307.30" font-size="7.5" text-anchor="start" fill="#303030" style="stroke-width:0.06px">x10<tspan dx="0.9" dy="-4.2" font-size="6.2">-4</tspan></text>
<rect x="601.0" y="308.9" width="61.0" height="89.6" fill="none" stroke="#1e1e1e" stroke-width="1.0"/>
<text x="599.00" y="316.34" font-size="7.9" text-anchor="end" fill="#303030"  style="stroke-width:0.06px">15</text>
<line x1="601.0" y1="313.5" x2="602.6" y2="313.5" stroke="#1e1e1e" stroke-width="0.8"/>
<text x="599.00" y="344.94" font-size="7.9" text-anchor="end" fill="#303030"  style="stroke-width:0.06px">10</text>
<line x1="601.0" y1="342.1" x2="602.6" y2="342.1" stroke="#1e1e1e" stroke-width="0.8"/>
<text x="599.00" y="373.04" font-size="7.9" text-anchor="end" fill="#303030"  style="stroke-width:0.06px">5</text>
<line x1="601.0" y1="370.2" x2="602.6" y2="370.2" stroke="#1e1e1e" stroke-width="0.8"/>
<text x="599.00" y="401.34" font-size="7.9" text-anchor="end" fill="#303030"  style="stroke-width:0.06px">0</text>
<text transform="translate(583.12,361.10) rotate(-90)" font-size="9.5" text-anchor="middle" fill="#1c1c1c" >Gene count</text>
<circle cx="609.7" cy="325.0" r="3.15" fill="#fab49e" stroke="#dc4f34" stroke-width="1.15"/>
<circle cx="609.7" cy="336.6" r="3.15" fill="#fab49e" stroke="#dc4f34" stroke-width="1.15"/>
<circle cx="607.1" cy="342.1" r="3.15" fill="#fab49e" stroke="#dc4f34" stroke-width="1.15"/>
<circle cx="612.4" cy="353.6" r="3.15" fill="#fab49e" stroke="#dc4f34" stroke-width="1.15"/>
<circle cx="610.6" cy="353.6" r="3.15" fill="#fab49e" stroke="#dc4f34" stroke-width="1.15"/>
<circle cx="609.3" cy="359.3" r="3.15" fill="#fab49e" stroke="#dc4f34" stroke-width="1.15"/>
<circle cx="607.8" cy="364.9" r="3.15" fill="#fab49e" stroke="#dc4f34" stroke-width="1.15"/>
<circle cx="623.7" cy="330.7" r="3.15" fill="#9f9fe7" stroke="#5252aa" stroke-width="1.15"/>
<circle cx="625.6" cy="353.6" r="3.15" fill="#9f9fe7" stroke="#5252aa" stroke-width="1.15"/>
<circle cx="639.8" cy="342.1" r="3.15" fill="#98ddbc" stroke="#429c76" stroke-width="1.15"/>
<circle cx="639.8" cy="353.6" r="3.15" fill="#98ddbc" stroke="#429c76" stroke-width="1.15"/>
<circle cx="643.1" cy="364.7" r="3.15" fill="#98ddbc" stroke="#429c76" stroke-width="1.15"/>
<circle cx="642.3" cy="364.7" r="3.15" fill="#98ddbc" stroke="#429c76" stroke-width="1.15"/>
<circle cx="656.8" cy="391.7" r="3.15" fill="#f3f386" stroke="#b8b840" stroke-width="1.15"/>
<rect x="410.7" y="412.9" width="61.9" height="88.4" fill="none" stroke="#1e1e1e" stroke-width="1.0"/>
<text x="408.60" y="416.34" font-size="7.9" text-anchor="end" fill="#303030"  style="stroke-width:0.06px">0.71</text>
<text x="408.60" y="437.04" font-size="7.9" text-anchor="end" fill="#303030"  style="stroke-width:0.06px">0.69</text>
<line x1="410.7" y1="434.2" x2="412.3" y2="434.2" stroke="#1e1e1e" stroke-width="0.8"/>
<text x="408.60" y="458.84" font-size="7.9" text-anchor="end" fill="#303030"  style="stroke-width:0.06px">0.67</text>
<line x1="410.7" y1="456.0" x2="412.3" y2="456.0" stroke="#1e1e1e" stroke-width="0.8"/>
<text x="408.60" y="480.84" font-size="7.9" text-anchor="end" fill="#303030"  style="stroke-width:0.06px">0.65</text>
<line x1="410.7" y1="478.0" x2="412.3" y2="478.0" stroke="#1e1e1e" stroke-width="0.8"/>
<text x="408.60" y="502.64" font-size="7.9" text-anchor="end" fill="#303030"  style="stroke-width:0.06px">0.63</text>
<text transform="translate(389.12,453.40) rotate(-90)" font-size="9.5" text-anchor="middle" fill="#1c1c1c" >Codon adaptation index</text>
<circle cx="417.1" cy="448.1" r="3.15" fill="#fab49e" stroke="#dc4f34" stroke-width="1.15"/>
<circle cx="420.5" cy="452.3" r="3.15" fill="#fab49e" stroke="#dc4f34" stroke-width="1.15"/>
<circle cx="420.3" cy="467.5" r="3.15" fill="#fab49e" stroke="#dc4f34" stroke-width="1.15"/>
<circle cx="421.8" cy="470.3" r="3.15" fill="#fab49e" stroke="#dc4f34" stroke-width="1.15"/>
<circle cx="419.4" cy="475.8" r="3.15" fill="#fab49e" stroke="#dc4f34" stroke-width="1.15"/>
<circle cx="417.7" cy="490.6" r="3.15" fill="#fab49e" stroke="#dc4f34" stroke-width="1.15"/>
<circle cx="419.9" cy="495.8" r="3.15" fill="#fab49e" stroke="#dc4f34" stroke-width="1.15"/>
<circle cx="434.7" cy="469.3" r="3.15" fill="#9f9fe7" stroke="#5252aa" stroke-width="1.15"/>
<circle cx="433.8" cy="474.9" r="3.15" fill="#9f9fe7" stroke="#5252aa" stroke-width="1.15"/>
<circle cx="447.3" cy="419.0" r="3.15" fill="#98ddbc" stroke="#429c76" stroke-width="1.15"/>
<circle cx="447.3" cy="463.4" r="3.15" fill="#98ddbc" stroke="#429c76" stroke-width="1.15"/>
<circle cx="451.0" cy="465.6" r="3.15" fill="#98ddbc" stroke="#429c76" stroke-width="1.15"/>
<circle cx="448.9" cy="473.0" r="3.15" fill="#98ddbc" stroke="#429c76" stroke-width="1.15"/>
<circle cx="467.4" cy="456.0" r="3.15" fill="#f3f386" stroke="#b8b840" stroke-width="1.15"/>
<rect x="505.5" y="412.6" width="62.1" height="88.5" fill="none" stroke="#1e1e1e" stroke-width="1.0"/>
<text x="503.40" y="422.24" font-size="7.9" text-anchor="end" fill="#303030"  style="stroke-width:0.06px">3</text>
<line x1="505.5" y1="419.4" x2="507.1" y2="419.4" stroke="#1e1e1e" stroke-width="0.8"/>
<text x="503.40" y="440.74" font-size="7.9" text-anchor="end" fill="#303030"  style="stroke-width:0.06px">2.5</text>
<line x1="505.5" y1="437.9" x2="507.1" y2="437.9" stroke="#1e1e1e" stroke-width="0.8"/>
<text x="503.40" y="457.94" font-size="7.9" text-anchor="end" fill="#303030"  style="stroke-width:0.06px">2</text>
<line x1="505.5" y1="455.1" x2="507.1" y2="455.1" stroke="#1e1e1e" stroke-width="0.8"/>
<text x="503.40" y="475.84" font-size="7.9" text-anchor="end" fill="#303030"  style="stroke-width:0.06px">1.5</text>
<line x1="505.5" y1="473.0" x2="507.1" y2="473.0" stroke="#1e1e1e" stroke-width="0.8"/>
<text x="503.40" y="493.84" font-size="7.9" text-anchor="end" fill="#303030"  style="stroke-width:0.06px">1</text>
<line x1="505.5" y1="491.0" x2="507.1" y2="491.0" stroke="#1e1e1e" stroke-width="0.8"/>
<text transform="translate(489.12,458.70) rotate(-90)" font-size="9.5" text-anchor="middle" fill="#1c1c1c" >Genome size</text>
<circle cx="515.8" cy="416.3" r="3.15" fill="#fab49e" stroke="#dc4f34" stroke-width="1.15"/>
<circle cx="513.4" cy="419.0" r="3.15" fill="#fab49e" stroke="#dc4f34" stroke-width="1.15"/>
<circle cx="518.4" cy="420.3" r="3.15" fill="#fab49e" stroke="#dc4f34" stroke-width="1.15"/>
<circle cx="514.9" cy="428.7" r="3.15" fill="#fab49e" stroke="#dc4f34" stroke-width="1.15"/>
<circle cx="529.2" cy="472.1" r="3.15" fill="#9f9fe7" stroke="#5252aa" stroke-width="1.15"/>
<circle cx="531.9" cy="479.1" r="3.15" fill="#9f9fe7" stroke="#5252aa" stroke-width="1.15"/>
<circle cx="544.9" cy="470.6" r="3.15" fill="#98ddbc" stroke="#429c76" stroke-width="1.15"/>
<circle cx="546.2" cy="471.2" r="3.15" fill="#98ddbc" stroke="#429c76" stroke-width="1.15"/>
<circle cx="547.3" cy="471.2" r="3.15" fill="#98ddbc" stroke="#429c76" stroke-width="1.15"/>
<circle cx="563.0" cy="500.8" r="3.15" fill="#f3f386" stroke="#b8b840" stroke-width="1.15"/>
<text x="506.40" y="411.60" font-size="7.5" text-anchor="start" fill="#303030" style="stroke-width:0.06px">x 10<tspan dx="0.9" dy="-4.2" font-size="6.2">4</tspan></text>
<rect x="601.3" y="412.9" width="60.3" height="88.4" fill="none" stroke="#1e1e1e" stroke-width="1.0"/>
<text x="600.20" y="419.44" font-size="7.9" text-anchor="end" fill="#303030"  style="stroke-width:0.06px">0.03</text>
<line x1="601.3" y1="416.6" x2="602.9" y2="416.6" stroke="#1e1e1e" stroke-width="0.8"/>
<text x="600.20" y="447.74" font-size="7.9" text-anchor="end" fill="#303030"  style="stroke-width:0.06px">0.02</text>
<line x1="601.3" y1="444.9" x2="602.9" y2="444.9" stroke="#1e1e1e" stroke-width="0.8"/>
<text x="600.20" y="475.84" font-size="7.9" text-anchor="end" fill="#303030"  style="stroke-width:0.06px">0.01</text>
<line x1="601.3" y1="473.0" x2="602.9" y2="473.0" stroke="#1e1e1e" stroke-width="0.8"/>
<text x="600.20" y="503.54" font-size="7.9" text-anchor="end" fill="#303030"  style="stroke-width:0.06px">0</text>
<text transform="translate(583.12,458.60) rotate(-90)" font-size="9.5" text-anchor="middle" fill="#1c1c1c" >Mutation rate</text>
<circle cx="608.4" cy="494.7" r="3.15" fill="#fab49e" stroke="#dc4f34" stroke-width="1.15"/>
<circle cx="611.7" cy="496.1" r="3.15" fill="#fab49e" stroke="#dc4f34" stroke-width="1.15"/>
<circle cx="609.3" cy="498.0" r="3.15" fill="#fab49e" stroke="#dc4f34" stroke-width="1.15"/>
<circle cx="611.1" cy="500.8" r="3.15" fill="#fab49e" stroke="#dc4f34" stroke-width="1.15"/>
<circle cx="626.5" cy="481.9" r="3.15" fill="#9f9fe7" stroke="#5252aa" stroke-width="1.15"/>
<circle cx="624.1" cy="493.9" r="3.15" fill="#9f9fe7" stroke="#5252aa" stroke-width="1.15"/>
<circle cx="641.3" cy="482.3" r="3.15" fill="#98ddbc" stroke="#429c76" stroke-width="1.15"/>
<circle cx="638.5" cy="488.4" r="3.15" fill="#98ddbc" stroke="#429c76" stroke-width="1.15"/>
<circle cx="638.9" cy="490.6" r="3.15" fill="#98ddbc" stroke="#429c76" stroke-width="1.15"/>
<circle cx="638.9" cy="493.9" r="3.15" fill="#98ddbc" stroke="#429c76" stroke-width="1.15"/>
<circle cx="656.8" cy="421.8" r="3.15" fill="#f3f386" stroke="#b8b840" stroke-width="1.15"/>
<text transform="translate(421.96,505.00) rotate(-90)" font-size="9.9" text-anchor="end" fill="#1c1c1c" >CoV</text>
<text transform="translate(436.86,505.00) rotate(-90)" font-size="9.9" text-anchor="end" fill="#1c1c1c" >Pneumoviridae</text>
<text transform="translate(450.36,505.00) rotate(-90)" font-size="9.9" text-anchor="end" fill="#1c1c1c" >Paramyxoviridae</text>
<text transform="translate(468.56,505.00) rotate(-90)" font-size="9.9" text-anchor="end" fill="#1c1c1c" >Picornaviridae</text>
<text transform="translate(520.76,505.00) rotate(-90)" font-size="9.9" text-anchor="end" fill="#1c1c1c" >CoV</text>
<text transform="translate(533.86,505.00) rotate(-90)" font-size="9.9" text-anchor="end" fill="#1c1c1c" >Pneumoviridae</text>
<text transform="translate(546.56,505.00) rotate(-90)" font-size="9.9" text-anchor="end" fill="#1c1c1c" >Paramyxoviridae</text>
<text transform="translate(565.36,505.00) rotate(-90)" font-size="9.9" text-anchor="end" fill="#1c1c1c" >Picornaviridae</text>
<text transform="translate(614.16,505.00) rotate(-90)" font-size="9.9" text-anchor="end" fill="#1c1c1c" >CoV</text>
<text transform="translate(628.06,505.00) rotate(-90)" font-size="9.9" text-anchor="end" fill="#1c1c1c" >Pneumoviridae</text>
<text transform="translate(643.36,505.00) rotate(-90)" font-size="9.9" text-anchor="end" fill="#1c1c1c" >Paramyxoviridae</text>
<text transform="translate(659.66,505.00) rotate(-90)" font-size="9.9" text-anchor="end" fill="#1c1c1c" >Picornaviridae</text>
</svg>
</body></html>
